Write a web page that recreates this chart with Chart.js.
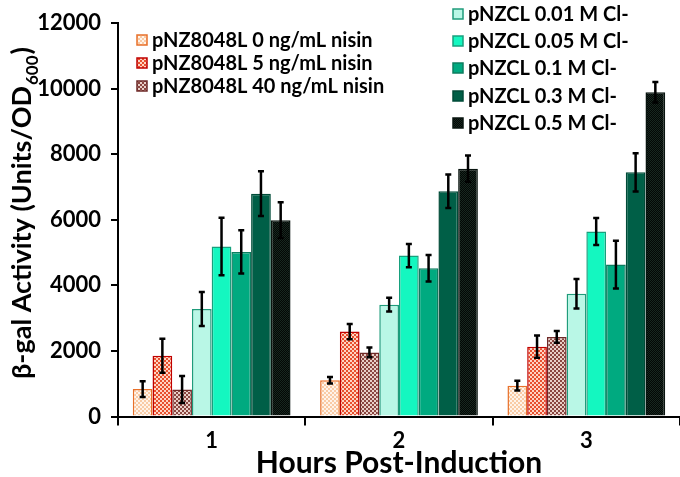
<!DOCTYPE html>
<html>
<head>
<meta charset="utf-8">
<script src="https://cdn.jsdelivr.net/npm/chart.js@4.4.0/dist/chart.umd.min.js"></script>
<style>
  html, body { margin: 0; padding: 0; background: #fff; }
  #wrap { width: 680px; height: 477px; }
</style>
</head>
<body>
<div id="wrap"><canvas id="chart" width="680" height="477"></canvas></div>
<script>
const hours = ["1", "2", "3"];
const seriesNames = [
  "pNZ8048L 0 ng/mL nisin",
  "pNZ8048L 5 ng/mL nisin",
  "pNZ8048L 40 ng/mL nisin",
  "pNZCL 0.01 M Cl-",
  "pNZCL 0.05 M Cl-",
  "pNZCL 0.1 M Cl-",
  "pNZCL 0.3 M Cl-",
  "pNZCL 0.5 M Cl-"
];
const nisin0 = [837, 1105, 942];
const nisin5 = [1855, 2590, 2130];
const nisin40 = [825, 1955, 2428];
const cl001 = [3280, 3410, 3745];
const cl005 = [5187, 4910, 5646];
const cl01 = [5020, 4525, 4636];
const cl03 = [6800, 6870, 7450];
const cl05 = [5990, 7560, 9893];

const nisin0Err = [240, 100, 150];
const nisin5Err = [520, 230, 340];
const nisin40Err = [410, 150, 180];
const cl001Err = [520, 210, 450];
const cl005Err = [880, 355, 410];
const cl01Err = [660, 405, 730];
const cl03Err = [680, 510, 585];
const cl05Err = [545, 400, 315];

const yTicks = [0, 2000, 4000, 6000, 8000, 10000, 12000];

const FONT = "Lato";
const canvas = document.getElementById("chart");
const ctx = canvas.getContext("2d");

// small checker tile used as a bar fill
function checker(a, b, cell) {
  const t = document.createElement("canvas");
  t.width = t.height = cell * 2;
  const c = t.getContext("2d");
  c.fillStyle = a;
  c.fillRect(0, 0, cell * 2, cell * 2);
  c.fillStyle = b;
  c.fillRect(0, 0, cell, cell);
  c.fillRect(cell, cell, cell, cell);
  return ctx.createPattern(t, "repeat");
}

const values = [nisin0, nisin5, nisin40, cl001, cl005, cl01, cl03, cl05];
const errors = [nisin0Err, nisin5Err, nisin40Err, cl001Err, cl005Err, cl01Err, cl03Err, cl05Err];
const fills = [
  checker("#fff4ea", "#f9cba6", 2),
  checker("#ffd4c4", "#e8502e", 2),
  checker("#e8cfc8", "#8a4640", 2),
  "#b9f7e6",
  "#14f7c0",
  "#00aa80",
  "#005f47",
  checker("#030705", "#17271f", 1)
];
const borders = ["#e8702a", "#c00000", "#6e2a28", "#1f9c7b", "#17a07d", "#0c7d5f", "#004b38", "#08140f"];

const errorBars = {
  id: "errorBars",
  afterDatasetsDraw(chart) {
    const c = chart.ctx;
    const y = chart.scales.y;
    c.save();
    c.strokeStyle = "#000";
    c.lineWidth = 2.5;
    chart.data.datasets.forEach((ds, i) => {
      const meta = chart.getDatasetMeta(i);
      meta.data.forEach((bar, j) => {
        const v = ds.data[j];
        const e = errors[i][j];
        const top = y.getPixelForValue(v + e);
        const bot = y.getPixelForValue(v - e);
        c.beginPath();
        c.moveTo(bar.x, top);
        c.lineTo(bar.x, bot);
        c.moveTo(bar.x - 3, top);
        c.lineTo(bar.x + 3, top);
        c.moveTo(bar.x - 3, bot);
        c.lineTo(bar.x + 3, bot);
        c.stroke();
      });
    });
    c.restore();
  }
};

const extras = {
  id: "extras",
  afterDraw(chart) {
    const c = chart.ctx;
    const ds = chart.data.datasets;
    c.save();
    // legends, two blocks
    c.font = "bold 20px " + FONT;
    c.textBaseline = "middle";
    c.fillStyle = "#000";
    const leftRows = [40, 63, 86];
    const rightRows = [14, 41, 68, 96, 123];
    ds.forEach((d, i) => {
      let bx, by;
      if (i < 3) { bx = 137; by = leftRows[i]; }
      else { bx = 453; by = rightRows[i - 3]; }
      c.fillStyle = d.backgroundColor;
      c.fillRect(bx, by - 5, 10, 10);
      c.strokeStyle = d.borderColor;
      c.lineWidth = 1.5;
      c.strokeRect(bx, by - 5, 10, 10);
      c.fillStyle = "#000";
      c.fillText(d.label, bx + 15, by + 1);
    });

    // y title with subscript
    c.translate(22, 214);
    c.rotate(-Math.PI / 2);
    const main = "β-gal Activity (Units/OD";
    const sub = "600";
    const close = ")";
    c.font = "bold 27px " + FONT;
    const w1 = c.measureText(main).width;
    const w3 = c.measureText(close).width;
    c.font = "bold 17px " + FONT;
    const w2 = c.measureText(sub).width;
    let x0 = -(w1 + w2 + w3) / 2;
    c.textAlign = "left";
    c.font = "bold 27px " + FONT;
    c.fillText(main, x0, 0);
    c.font = "bold 17px " + FONT;
    c.fillText(sub, x0 + w1 + 1, 11);
    c.font = "bold 27px " + FONT;
    c.fillText(close, x0 + w1 + w2 + 2, 0);
    c.restore();

    // x title
    c.save();
    c.font = "bold 30px " + FONT;
    c.fillStyle = "#000";
    c.textAlign = "center";
    c.textBaseline = "middle";
    c.fillText("Hours Post-Induction", 399, 463);
    c.restore();
  }
};

new Chart(ctx, {
  type: "bar",
  data: {
    labels: hours,
    datasets: seriesNames.map((name, i) => ({
      label: name,
      data: values[i],
      backgroundColor: fills[i],
      borderColor: borders[i],
      borderWidth: 1.5,
      categoryPercentage: 0.842,
      barPercentage: 1.0
    }))
  },
  options: {
    responsive: false,
    animation: false,
    devicePixelRatio: 1,
    layout: { padding: { top: 12, right: 0, left: 0, bottom: 0 } },
    plugins: {
      legend: { display: false },
      tooltip: { enabled: false }
    },
    scales: {
      x: {
        offset: true,
        grid: { offset: true, drawOnChartArea: false, color: "#000", lineWidth: 2, tickLength: 9 },
        border: { color: "#000", width: 2 },
        ticks: { color: "#000", font: { family: FONT, weight: "bold", size: 22 }, padding: 2 },
        afterFit(scale) { scale.height = 60.5; }
      },
      y: {
        min: 0,
        max: 12000,
        afterBuildTicks(scale) { scale.ticks = yTicks.map(v => ({ value: v })); },
        grid: { drawOnChartArea: false, color: "#000", lineWidth: 2, tickLength: 7 },
        border: { color: "#000", width: 2 },
        ticks: {
          color: "#000",
          font: { family: FONT, weight: "bold", size: 22 },
          padding: 10,
          callback: (v) => String(v)
        },
        afterFit(scale) { scale.width = 118; }
      }
    }
  },
  plugins: [errorBars, extras]
});
</script>
</body>
</html>
